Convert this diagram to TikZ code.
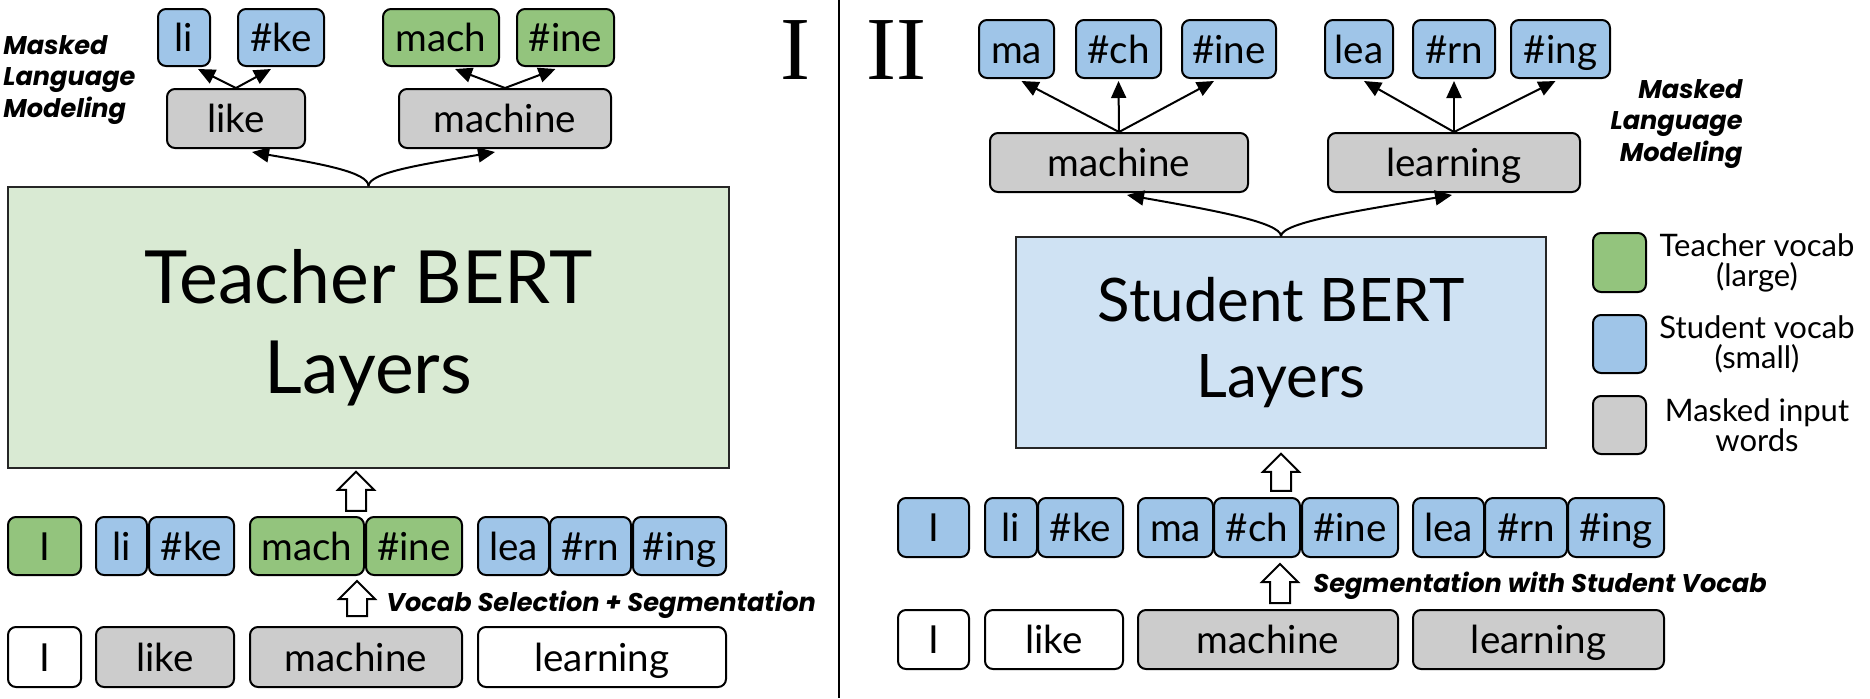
\documentclass[tikz,border=0pt]{standalone}
\usepackage{fontspec}
\setmainfont{Lato}
\newfontfamily\labelfont{Poppins}
\newfontfamily\romanfont{Liberation Serif}
\usetikzlibrary{arrows.meta,calc}
\definecolor{tgreen}{HTML}{93C47D}
\definecolor{sblue}{HTML}{9FC5E8}
\definecolor{mgray}{HTML}{CCCCCC}
\definecolor{tfill}{HTML}{D9EAD3}
\definecolor{sfill}{HTML}{CFE2F3}
\tikzset{
  tok/.style={draw=black, line width=1pt, rounded corners=4pt, inner sep=0pt,
    text height=14pt, text depth=0pt, font=\fontsize{19.3}{22}\selectfont},
  bigbox/.style={draw=black!85, line width=0.8pt, inner sep=0pt, align=center},
  arr/.style={line width=1pt, -{Triangle[length=8.5pt,width=7.5pt]}},
  barr/.style={draw=black, fill=white, line width=1pt, line join=miter},
  mlm/.style={font=\labelfont\bfseries\itshape\fontsize{12.8}{15.8}\selectfont},
  legtext/.style={align=center, font=\fontsize{15.5}{15}\selectfont},
  roman/.style={font=\romanfont\fontsize{45}{50}\selectfont, anchor=base, inner sep=0pt}
}
\newcommand{\tokbox}[7]{\node[tok, fill=#6, minimum width={(#3-#2)*0.5pt}, minimum height={(#5-#4)*0.5pt}] (#1) at ({(#2+#3)/2},{(#4+#5)/2}) {#7};}
\newcommand{\blockarrow}[2]{\draw[barr] (#1) -- ++(18,18) -- ++(-8,0) -- ++(0,{#2-18}) -- ++(-20,0) -- ++(0,{18-#2}) -- ++(-8,0) -- cycle;}
\begin{document}
\begin{tikzpicture}[x=0.5pt, y=-0.5pt]
\useasboundingbox (0,0) rectangle (1870,698);
\fill[white] (0,0) rectangle (1870,698);
% divider
\draw[line width=0.9pt] (839,0) -- (839,698);
% ================= Panel I =================
\node[roman] (romI) at (795,79) {I};
\node[mlm, align=left, anchor=west, inner sep=0pt] (mlmI) at (3,80) {Masked\\Language\\Modeling};
\tokbox{tli}{158}{210}{9}{66}{sblue}{li}
\tokbox{tke}{238}{324}{9}{66}{sblue}{\#ke}
\tokbox{tmach}{383}{499}{9}{66}{tgreen}{mach}
\tokbox{tine}{517}{614}{9}{66}{tgreen}{\#ine}
\tokbox{tlike}{167}{305}{89}{148}{mgray}{like}
\tokbox{tmachine}{399}{611}{89}{148}{mgray}{machine}
\node[bigbox, fill=tfill, minimum width={(729-8)*0.5pt}, minimum height={(468-187)*0.5pt},
  font=\fontsize{36.7}{45}\selectfont] (teacher) at (368.5,327.5) {Teacher BERT\\Layers};
\draw[arr] (tlike.north) -- ($(tli.south)+(14,2)$);
\draw[arr] (tlike.north) -- ($(tke.south)+(-10,2)$);
\draw[arr] (tmachine.north) -- ($(tmach.south)+(14,2)$);
\draw[arr] (tmachine.north) -- ($(tine.south)+(-10,2)$);
\draw[arr] (teacher.north) .. controls +(0,-14) and +(70,12) .. ($(tlike.south)+(16,3)$);
\draw[arr] (teacher.north) .. controls +(0,-14) and +(-70,12) .. ($(tmachine.south)+(-10,3)$);
% row of tokens
\tokbox{aI}{8}{81}{517}{575}{tgreen}{I}
\tokbox{ali}{96}{147}{517}{575}{sblue}{li}
\tokbox{ake}{149}{234}{517}{575}{sblue}{\#ke}
\tokbox{amach}{250}{364}{517}{575}{tgreen}{mach}
\tokbox{aine}{366}{462}{517}{575}{tgreen}{\#ine}
\tokbox{alea}{478}{549}{517}{575}{sblue}{lea}
\tokbox{arn}{550}{631}{517}{575}{sblue}{\#rn}
\tokbox{aing}{633}{726}{517}{575}{sblue}{\#ing}
% input words
\tokbox{bI}{8}{81}{627}{687}{white}{I}
\tokbox{blike}{96}{234}{627}{687}{mgray}{like}
\tokbox{bmachine}{250}{462}{627}{687}{mgray}{machine}
\tokbox{blearning}{478}{726}{627}{687}{white}{learning}
\coordinate (ba1) at ($(teacher.south)+(-12.5,3)$);
\blockarrow{ba1}{39}
\coordinate (ba2) at ($(amach.south east)+(-8,5)$);
\blockarrow{ba2}{35}
\node[mlm, anchor=base west, inner sep=0pt] (vsel) at (386,611) {Vocab Selection + Segmentation};
% ================= Panel II =================
\node[roman] (romII) at (896.5,79) {II};
\tokbox{uma}{979}{1054}{20}{78}{sblue}{ma}
\tokbox{uch}{1076}{1161}{20}{78}{sblue}{\#ch}
\tokbox{uine}{1182}{1276}{20}{78}{sblue}{\#ine}
\tokbox{ulea}{1325}{1393}{20}{78}{sblue}{lea}
\tokbox{urn}{1413}{1495}{20}{78}{sblue}{\#rn}
\tokbox{uing}{1511}{1610}{20}{78}{sblue}{\#ing}
\tokbox{umachine}{990}{1248}{133}{192}{mgray}{machine}
\tokbox{ulearning}{1328}{1580}{133}{192}{mgray}{learning}
\node[mlm, align=right, anchor=east, inner sep=0pt] (mlmII) at (1743,124) {Masked\\Language\\Modeling};
\node[bigbox, fill=sfill, minimum width={(1546-1016)*0.5pt}, minimum height={(448-237)*0.5pt},
  font=\fontsize{30}{38}\selectfont] (student) at (1281,342.5) {Student BERT\\Layers};
\draw[arr] (umachine.north) -- ($(uma.south)+(5,2)$);
\draw[arr] (umachine.north) -- ($(uch.south)+(0,2)$);
\draw[arr] (umachine.north) -- ($(uine.south)+(-15,2)$);
\draw[arr] (ulearning.north) -- ($(ulea.south)+(5,2)$);
\draw[arr] (ulearning.north) -- ($(urn.south)+(0,2)$);
\draw[arr] (ulearning.north) -- ($(uing.south)+(-5,2)$);
\draw[arr] (student.north) .. controls +(0,-14) and +(85,15) .. ($(umachine.south)+(8,2)$);
\draw[arr] (student.north) .. controls +(0,-14) and +(-90,15) .. ($(ulearning.south)+(-2,2)$);
% legend
\tokbox{lgG}{1593}{1646}{233}{292}{tgreen}{}
\tokbox{lgB}{1593}{1646}{315}{373}{sblue}{}
\tokbox{lgM}{1593}{1646}{396}{454}{mgray}{}
\node[legtext] (lgGt) at (1757,263) {Teacher vocab\\(large)};
\node[legtext] (lgBt) at (1757,344) {Student vocab\\(small)};
\node[legtext] (lgMt) at (1757,425) {Masked input\\words};
% row of tokens
\tokbox{cI}{898}{969}{498}{557}{sblue}{I}
\tokbox{cli}{985}{1037}{498}{557}{sblue}{li}
\tokbox{cke}{1038}{1123}{498}{557}{sblue}{\#ke}
\tokbox{cma}{1138}{1213}{498}{557}{sblue}{ma}
\tokbox{cch}{1214}{1300}{498}{557}{sblue}{\#ch}
\tokbox{cine}{1302}{1398}{498}{557}{sblue}{\#ine}
\tokbox{clea}{1413}{1484}{498}{557}{sblue}{lea}
\tokbox{crn}{1485}{1567}{498}{557}{sblue}{\#rn}
\tokbox{cing}{1568}{1664}{498}{557}{sblue}{\#ing}
% input words
\tokbox{dI}{898}{969}{610}{669}{white}{I}
\tokbox{dlike}{985}{1123}{610}{669}{white}{like}
\tokbox{dmachine}{1138}{1398}{610}{669}{mgray}{machine}
\tokbox{dlearning}{1413}{1664}{610}{669}{mgray}{learning}
\coordinate (ba3) at ($(student.south)+(0,5)$);
\blockarrow{ba3}{37}
\coordinate (ba4) at ($(cch.south)+(23,6)$);
\blockarrow{ba4}{39}
\node[mlm, anchor=base west, inner sep=0pt] (segsv) at (1313,592) {Segmentation with Student Vocab};
\end{tikzpicture}
\end{document}
